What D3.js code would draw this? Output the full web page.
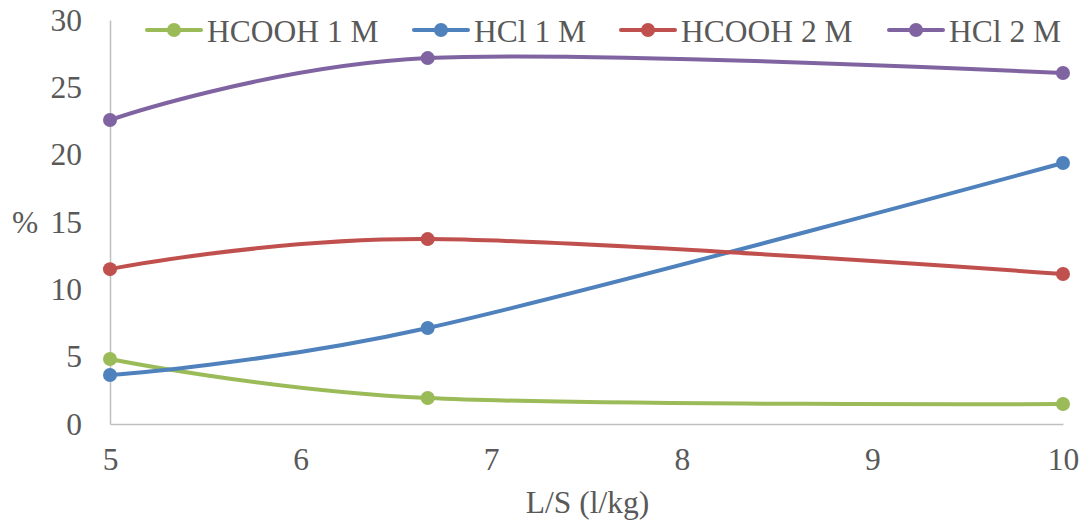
<!DOCTYPE html>
<html>
<head>
<meta charset="utf-8">
<script src="https://cdn.jsdelivr.net/npm/d3@7"></script>
<style>
  html, body { margin: 0; padding: 0; background: #fff; }
  svg { display: block; }
  text { font-family: "Liberation Serif", "Times New Roman", serif; fill: #595959; }
</style>
</head>
<body>
<svg id="chart" width="1091" height="526"></svg>
<script>
// L/S ratios (l/kg) at which leaching was measured
const ratios = [5, 20 / 3, 10];

// Extraction yield (%) per leaching solution
const hcooh1 = [4.83, 1.93, 1.48];
const hcl1 = [3.64, 7.13, 19.38];
const hcooh2 = [11.5, 13.73, 11.14];
const hcl2 = [22.57, 27.17, 26.06];

const seriesNames = ["HCOOH 1 M", "HCl 1 M", "HCOOH 2 M", "HCl 2 M"];
const seriesColors = ["#9BBB59", "#4F81BD", "#C0504D", "#8064A2"];

const xTicks = [5, 6, 7, 8, 9, 10];
const yTicks = [0, 5, 10, 15, 20, 25, 30];

const seriesValues = [hcooh1, hcl1, hcooh2, hcl2];
const series = seriesNames.map((name, i) => ({
  name,
  color: seriesColors[i],
  points: ratios.map((r, j) => ({ x: r, y: seriesValues[i][j] }))
}));

const svg = d3.select("#chart");
const plot = { left: 110, right: 1063, top: 20, bottom: 424 };

const x = d3.scaleLinear().domain([5, 10]).range([plot.left, plot.right]);
const y = d3.scaleLinear().domain([0, 30]).range([plot.bottom, plot.top]);

const fontSize = 31.5;
const axisColor = "#BFBFBF";

// Y axis: line plus right-aligned labels, no tick marks
const yAxis = svg.append("g")
  .attr("transform", `translate(${plot.left},0)`)
  .call(d3.axisLeft(y).tickValues(yTicks).tickSize(0).tickPadding(28));
yAxis.select(".domain").attr("stroke", axisColor).attr("stroke-width", 1.5);
yAxis.selectAll("text")
  .attr("font-size", fontSize)
  .attr("font-family", "Liberation Serif")
  .attr("fill", "#595959");

// X axis
const xAxis = svg.append("g")
  .attr("transform", `translate(0,${plot.bottom})`)
  .call(d3.axisBottom(x).tickValues(xTicks).tickSize(0).tickPadding(24).tickFormat(d3.format("d")));
xAxis.select(".domain").attr("stroke", axisColor).attr("stroke-width", 1.5);
xAxis.selectAll("text")
  .attr("font-size", fontSize)
  .attr("font-family", "Liberation Serif")
  .attr("fill", "#595959");

// Axis titles
svg.append("text")
  .attr("x", (plot.left + plot.right) / 2 + 1)
  .attr("y", 513)
  .attr("text-anchor", "middle")
  .attr("font-size", fontSize)
  .text("L/S (l/kg)");

svg.append("text")
  .attr("x", 12)
  .attr("y", 233)
  .attr("font-size", fontSize)
  .text("%");

// Smoothed lines with markers
const line = d3.line()
  .x(d => x(d.x))
  .y(d => y(d.y))
  .curve(d3.curveCardinal.tension(0));

const lines = svg.append("g");
series.forEach(s => {
  lines.append("path")
    .datum(s.points)
    .attr("fill", "none")
    .attr("stroke", s.color)
    .attr("stroke-width", 4)
    .attr("stroke-linecap", "round")
    .attr("d", line);
});
series.forEach(s => {
  lines.selectAll(null)
    .data(s.points)
    .join("circle")
    .attr("cx", d => x(d.x))
    .attr("cy", d => y(d.y))
    .attr("r", 7)
    .attr("fill", s.color);
});

// Legend across the top
const legendX = [147, 414, 621, 889];
const legend = svg.append("g");
series.forEach((s, i) => {
  const g = legend.append("g").attr("transform", `translate(${legendX[i]},30)`);
  g.append("line")
    .attr("x1", 0).attr("x2", 54)
    .attr("y1", 0).attr("y2", 0)
    .attr("stroke", s.color)
    .attr("stroke-width", 4)
    .attr("stroke-linecap", "round");
  g.append("circle").attr("cx", 27).attr("cy", 0).attr("r", 7).attr("fill", s.color);
  g.append("text")
    .attr("x", 60)
    .attr("y", 11.5)
    .attr("font-size", fontSize)
    .text(s.name);
});
</script>
</body>
</html>
